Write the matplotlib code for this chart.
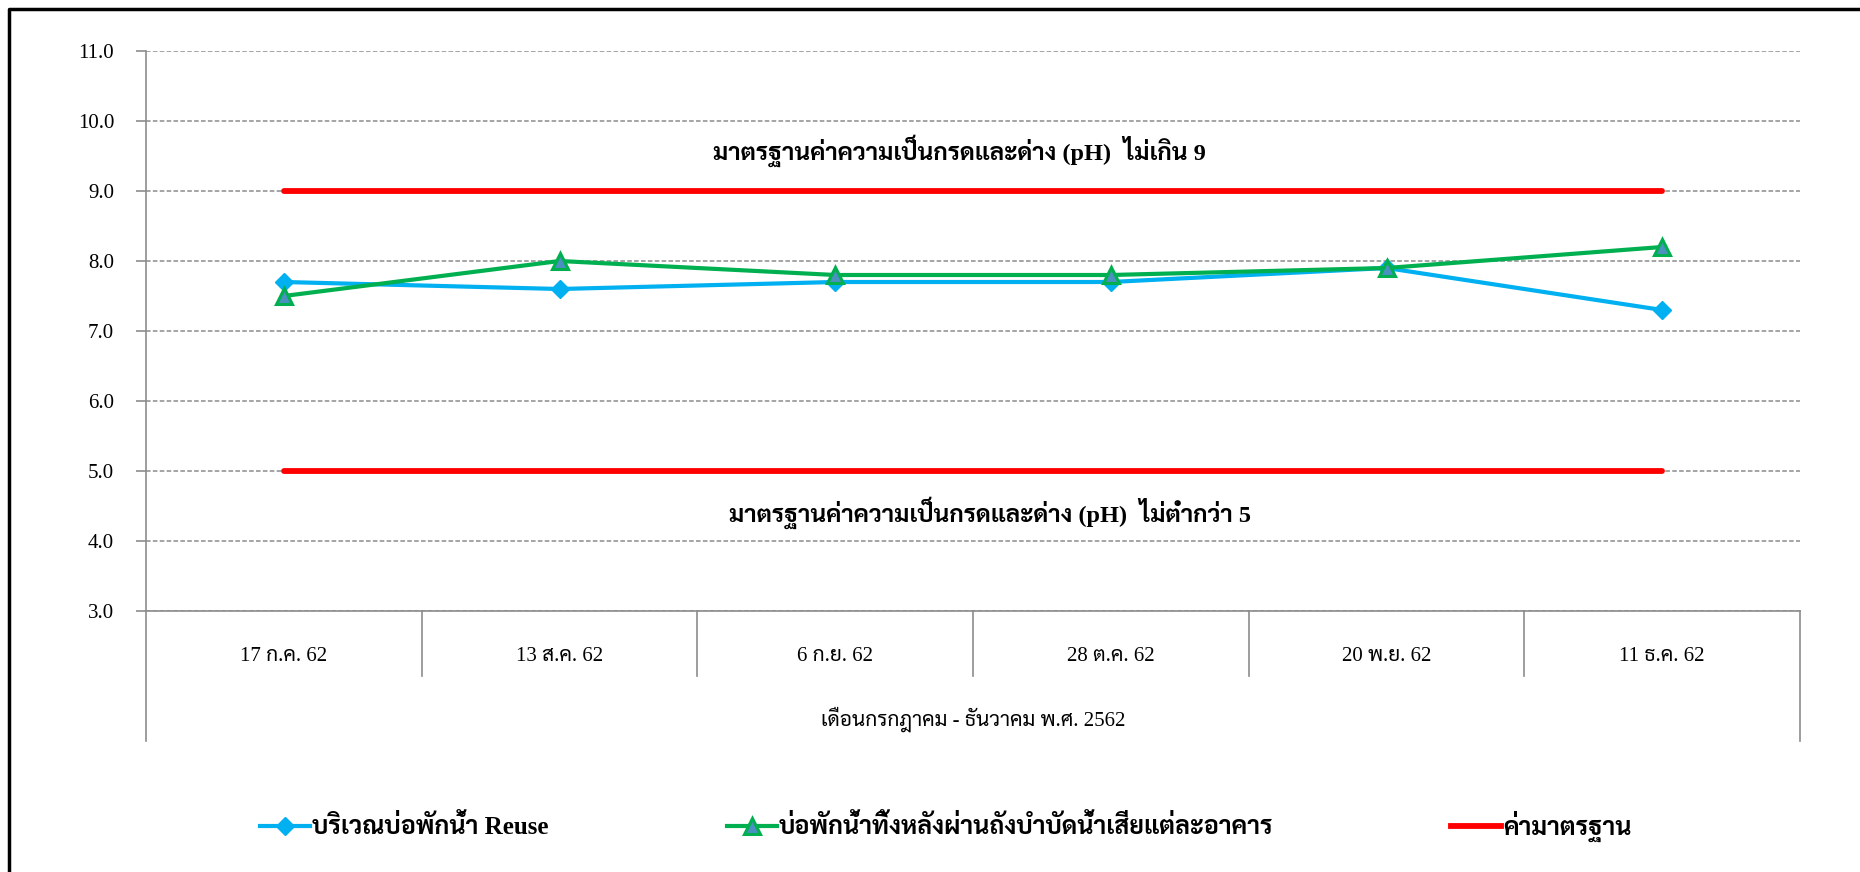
import matplotlib
matplotlib.use('Agg')
import matplotlib.pyplot as plt
from matplotlib import font_manager
import matplotlib.transforms as mtransforms
import numpy as np

# data
dates = ['17 ก.ค. 62', '13 ส.ค. 62', '6 ก.ย. 62', '28 ต.ค. 62', '20 พ.ย. 62', '11 ธ.ค. 62']
reuse_ph = [7.7, 7.6, 7.7, 7.7, 7.9, 7.3]
pond_ph = [7.5, 8.0, 7.8, 7.8, 7.9, 8.2]
std_upper = 9.0
std_lower = 5.0

reuse_label = 'บริเวณบ่อพักน้ำ Reuse'
pond_label = 'บ่อพักน้ำทิ้งหลังผ่านถังบำบัดน้ำเสียแต่ละอาคาร'
std_label = 'ค่ามาตรฐาน'
upper_note = 'มาตรฐานค่าความเป็นกรดและด่าง (pH)  ไม่เกิน 9'
lower_note = 'มาตรฐานค่าความเป็นกรดและด่าง (pH)  ไม่ต่ำกว่า 5'
xtitle = 'เดือนกรกฎาคม - ธันวาคม พ.ศ. 2562'

# pick a thai font that is installed (one with a bold face)
names = set(f.name for f in font_manager.fontManager.ttflist)
thai = 'DejaVu Sans'
for n in ['Sarabun', 'Taviraj', 'Trirong', 'Noto Serif Thai', 'Noto Sans Thai']:
    if n in names:
        thai = n
        break
fam = ['Liberation Serif', thai, 'DejaVu Sans']
plt.rcParams['font.family'] = fam

W, H = 1860, 872
fig = plt.figure(figsize=(W / 100, H / 100), dpi=100)
ax = fig.add_axes([146 / W, 1 - 611 / H, (1800 - 146) / W, (611 - 51) / H])

x = np.arange(len(dates)) + 0.5
ax.set_xlim(0, len(dates))
ax.set_ylim(3, 11)
ax.set_yticks(np.arange(3, 11.5, 1.0))
ax.set_yticklabels(['%.1f' % v for v in np.arange(3, 11.5, 1.0)], fontsize=15)
ax.yaxis.grid(True, linestyle=(0, (3, 1.5)), color='#8c8c8c', lw=1.1)
ax.set_axisbelow(True)
for s in ['top', 'right']:
    ax.spines[s].set_visible(False)
for s in ['left', 'bottom']:
    ax.spines[s].set_color('#8c8c8c')
    ax.spines[s].set_linewidth(1.2)
ax.tick_params(axis='y', length=7, width=1.2, color='#8c8c8c', direction='out', pad=16)

ax.set_xticks(x)
ax.set_xticklabels(dates, fontsize=15)
ax.tick_params(axis='x', length=0, pad=26)

# category box lines under the axis
tr = mtransforms.blended_transform_factory(ax.transData, ax.transAxes)
for b in range(len(dates) + 1):
    low = -0.232 if b in (0, len(dates)) else -0.116
    ax.plot([b, b], [0, low], color='#8c8c8c', lw=1.2, transform=tr, clip_on=False)
ax.text(len(dates) / 2, -0.193, xtitle, transform=tr, ha='center', va='center', fontsize=15)

ax.hlines([std_upper, std_lower], x[0], x[-1], color='#ff0000', lw=4.2, capstyle='round', zorder=3)
ax.plot([], [], color='#ff0000', lw=4.2, label=std_label)
ax.plot(x, reuse_ph, color='#00b0f0', lw=3, marker='D', ms=9, mec='#00b0f0', mfc='#00b0f0',
        label=reuse_label, zorder=4)
ax.plot(x, pond_ph, color='#00b050', lw=3, marker='^', ms=11, mec='#00b050', mew=2.2,
        mfc='#4a90c0', label=pond_label, zorder=5)

ax.text(len(dates) / 2 - 0.05, 9.57, upper_note, ha='center', va='center', fontsize=17.5, fontweight='bold')
ax.text(len(dates) / 2 + 0.06, 4.4, lower_note, ha='center', va='center', fontsize=17.5, fontweight='bold')

h, l = ax.get_legend_handles_labels()
order = [1, 2, 0]
fig.legend([h[i] for i in order], [l[i] for i in order], loc='center',
           bbox_to_anchor=(0.5 + 16 / W, 1 - 826 / H),
           ncol=3, frameon=False, prop={'size': 18, 'weight': 'bold'}, handlelength=2.0,
           handletextpad=0.1, columnspacing=7.1)

# outer frame (top and left edges)
fig.add_artist(plt.Line2D([9 / W, 9 / W, 1.0], [0.0, 1 - 9 / H, 1 - 9 / H], color='black', lw=2.5,
                          transform=fig.transFigure))

fig.savefig('out.png', dpi=100)
